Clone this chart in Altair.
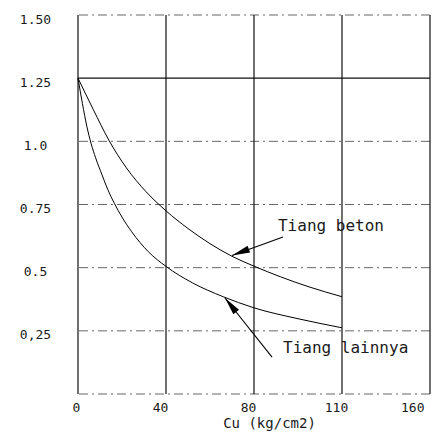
import altair as alt
import pandas as pd

# ---- data ----
cu_beton = [0, 7, 14, 22, 31, 40, 50, 60, 70, 80, 92, 105, 120]
sf_beton = [1.25, 1.125, 1.005, 0.895, 0.80, 0.725, 0.655, 0.595, 0.545, 0.506, 0.464, 0.424, 0.385]

cu_lain = [0, 2, 4, 6, 8, 10.8, 13.5, 16.5, 20, 24.4, 32, 40, 52, 66, 80, 100, 120]
sf_lain = [1.25, 1.15, 1.06, 0.99, 0.935, 0.87, 0.81, 0.755, 0.70, 0.642, 0.563, 0.505,
           0.44, 0.385, 0.341, 0.298, 0.262]

x_ticks = [0, 40, 80, 120, 160]
x_tick_labels = ["0", "40", "80", "110", "160"]
y_ticks = [0.25, 0.5, 0.75, 1.0, 1.25, 1.5]
y_tick_labels = ["0,25", "0.5", "0.75", "1.0", "1.25", "1.50"]

grid_v = [0, 40, 80, 120, 160]
grid_h_solid = [1.25]
grid_h_dash = [0, 0.25, 0.5, 0.75, 1.0, 1.5]

ann_text = ["Tiang beton", "Tiang lainnya"]
ann_tx = [90.9, 93.2]
ann_ty = [0.665, 0.182]
arrow_tip_x = [70, 66.8]
arrow_tip_y = [0.548, 0.38]
arrow_tail_x = [93.2, 88.2]
arrow_tail_y = [0.621, 0.146]
arrow_angle = [249.5, 321.4]

FONT = "DejaVu Sans Mono"
INK = "#1a1a1a"

xs = alt.Scale(domain=[0, 160], nice=False, zero=False)
ys = alt.Scale(domain=[0, 1.5], nice=False, zero=False)

x_label_expr = "[" + ",".join("'%s'" % s for s in x_tick_labels) + "][round(datum.value/40)]"
y_label_expr = "[''," + ",".join("'%s'" % s for s in y_tick_labels) + "][round(datum.value*4)]"

X_AX = alt.Axis(values=x_ticks, labelExpr=x_label_expr, grid=False, domain=False, ticks=False,
                labelFont=FONT, labelFontSize=13, labelColor=INK, labelPadding=7,
                labelBaseline="top", labelOffset=-6,
                title="Cu (kg/cm2)", titleFont=FONT, titleFontSize=14, titleFontWeight="normal",
                titleColor=INK, titleX=191, titleY=29, titleAlign="center", titleBaseline="middle")
Y_AX = alt.Axis(values=y_ticks, labelExpr=y_label_expr, grid=False, domain=False, ticks=False,
                labelFont=FONT, labelFontSize=13, labelColor=INK, labelPadding=43,
                labelAlign="center", labelBaseline="middle", labelOffset=4, title="")


def X(f):
    return alt.X(f, scale=xs, axis=X_AX, title="Cu (kg/cm2)")


def Y(f):
    return alt.Y(f, scale=ys, axis=Y_AX, title="")


lines_df = pd.DataFrame(
    {"cu": cu_beton + cu_lain,
     "sf": sf_beton + sf_lain,
     "s": ["beton"] * len(cu_beton) + ["lain"] * len(cu_lain)}
)

curves = alt.Chart(lines_df).mark_line(color="black", strokeWidth=1.0, interpolate="monotone").encode(
    x=X("cu:Q"), y=Y("sf:Q"), detail="s:N"
)

vgrid = alt.Chart(pd.DataFrame({"v": grid_v})).mark_rule(color="#111", strokeWidth=1.2).encode(
    x=X("v:Q")
)
hsolid = alt.Chart(pd.DataFrame({"h": grid_h_solid})).mark_rule(color="#111", strokeWidth=1.2).encode(
    y=Y("h:Q")
)
hdash = alt.Chart(pd.DataFrame({"h": grid_h_dash})).mark_rule(
    color="#555", strokeWidth=0.9, strokeDash=[9, 4, 2, 4]
).encode(y=Y("h:Q"))

arr_df = pd.DataFrame({"tx": arrow_tip_x, "ty": arrow_tip_y, "sx": arrow_tail_x, "sy": arrow_tail_y,
                       "ang": arrow_angle})
arr_lines = alt.Chart(arr_df).mark_rule(color="black", strokeWidth=1.1).encode(
    x=X("tx:Q"), y=Y("ty:Q"), x2="sx:Q", y2="sy:Q"
)
arr_heads = alt.Chart(arr_df).mark_point(
    shape="M0,0L0.4,2L-0.4,2Z", filled=True, color="black", size=324, opacity=1
).encode(
    x=X("tx:Q"), y=Y("ty:Q"), angle=alt.Angle("ang:Q", scale=None)
)

txt = alt.Chart(pd.DataFrame({"t": ann_text, "x": ann_tx, "y": ann_ty})).mark_text(
    font=FONT, fontSize=16, color=INK, align="left", baseline="middle"
).encode(
    x=X("x:Q"), y=Y("y:Q"), text="t:N"
)

chart = alt.layer(hdash, hsolid, vgrid, curves, arr_lines, arr_heads, txt).properties(
    width=352, height=379,
    autosize=alt.AutoSizeParams(type="none"),
    padding={"left": 70, "top": 7, "right": 2, "bottom": 38},
    background="white",
).configure_view(stroke=None)

chart.save("out.html", embed_options={"renderer": "svg", "actions": False})
